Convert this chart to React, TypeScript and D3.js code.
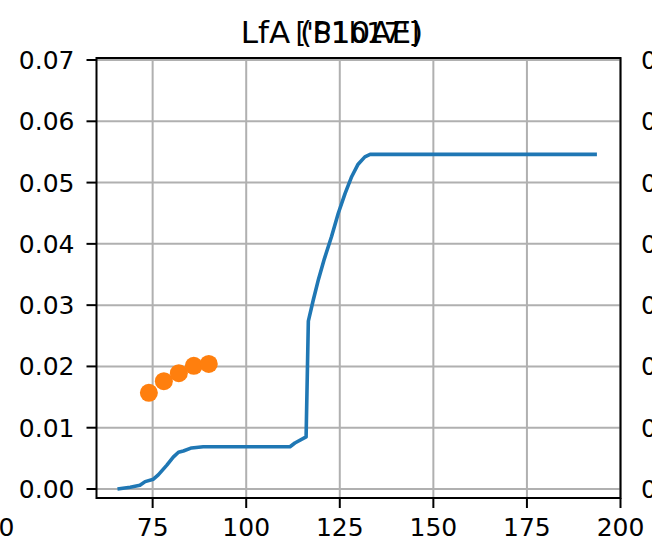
import React from "react";
import * as d3 from "d3";

const lineX = [65.6, 69.0, 71.6, 73.0, 75.2, 76.5, 78.8, 80.5, 81.9, 83.2, 85.4, 88.5, 111.7, 113.0, 116.0, 116.6, 117.9, 119.3, 120.9, 122.8, 124.6, 126.4, 128.2, 129.9, 131.7, 133.1, 193.7];
const lineY = [0.0, 0.00028, 0.0006, 0.0012, 0.0016, 0.0023, 0.0039, 0.0052, 0.006, 0.0062, 0.0067, 0.0069, 0.0069, 0.0075, 0.0085, 0.0274, 0.0308, 0.0342, 0.0376, 0.0412, 0.045, 0.0482, 0.051, 0.053, 0.0542, 0.0546, 0.0546];
const dotX = [74, 78, 82, 86, 90];
const dotY = [0.0157, 0.0176, 0.0189, 0.0201, 0.0204];
const xTicks = [75, 100, 125, 150, 175, 200];
const yTicks = [0, 0.01, 0.02, 0.03, 0.04, 0.05, 0.06, 0.07];
const titleMain = "['S1b17']";
const titleOther = "LfA (P10AE)";
const neighbourXLabel = "200";

const W = 652, H = 547;
const L = 96.5, R = 620.5, T = 58, B = 498;

export default function App() {
  const x = d3.scaleLinear().domain([60, 200]).range([L, R]);
  const y = d3.scaleLinear().domain([-0.00147, 0.07033]).range([B, T]);
  const pts = lineX.map((v, i) => [v, lineY[i]] as [number, number]);
  const path = d3.line<[number, number]>().x(d => x(d[0])).y(d => y(d[1]))(pts) || "";
  const font = "DejaVu Sans, sans-serif";
  const fs = 25;
  return (
    <svg width={W} height={H} style={{ position: "absolute", left: 0, top: 0, background: "#fff" }}>
      <rect x={0} y={0} width={W} height={H} fill="#fff" />
      <defs>
        <clipPath id="clip"><rect x={L} y={T} width={R - L} height={B - T} /></clipPath>
      </defs>
      {xTicks.map(t => (
        <line key={"gx" + t} x1={x(t)} x2={x(t)} y1={T} y2={B} stroke="#b0b0b0" strokeWidth={2} />
      ))}
      {yTicks.map(t => (
        <line key={"gy" + t} x1={L} x2={R} y1={y(t)} y2={y(t)} stroke="#b0b0b0" strokeWidth={2} />
      ))}
      <g clipPath="url(#clip)">
        <path d={path} fill="none" stroke="#1f77b4" strokeWidth={3.6} strokeLinejoin="round" strokeLinecap="butt" />
      </g>
      {dotX.map((v, i) => (
        <circle key={"d" + i} cx={x(v)} cy={y(dotY[i])} r={9} fill="#ff7f0e" />
      ))}
      <rect x={L} y={T} width={R - L} height={B - T} fill="none" stroke="#000" strokeWidth={2} />
      {xTicks.map(t => (
        <g key={"tx" + t}>
          <line x1={x(t)} x2={x(t)} y1={B} y2={B + 10} stroke="#000" strokeWidth={2} />
          <text x={x(t)} y={536} textAnchor="middle" fontFamily={font} fontSize={fs} fill="#000">{t}</text>
        </g>
      ))}
      {yTicks.map(t => (
        <g key={"ty" + t}>
          <line x1={L - 10} x2={L} y1={y(t)} y2={y(t)} stroke="#000" strokeWidth={2} />
          <text x={L - 22} y={y(t)} dy="0.36em" textAnchor="end" fontFamily={font} fontSize={fs} fill="#000">{t.toFixed(2)}</text>
        </g>
      ))}
      <text x={14.4} y={536} textAnchor="end" fontFamily={font} fontSize={fs} fill="#000">{neighbourXLabel}</text>
      {yTicks.map(t => (
        <text key={"ry" + t} x={641} y={y(t)} dy="0.36em" textAnchor="start" fontFamily={font} fontSize={fs} fill="#000">{t.toFixed(2)}</text>
      ))}
      <text x={357.5} y={43} textAnchor="middle" fontFamily={font} fontSize={27.5} fill="#000">{titleMain}</text>
      <text x={332} y={43} textAnchor="middle" fontFamily={font} fontSize={31} fill="#000">{titleOther}</text>
    </svg>
  );
}
